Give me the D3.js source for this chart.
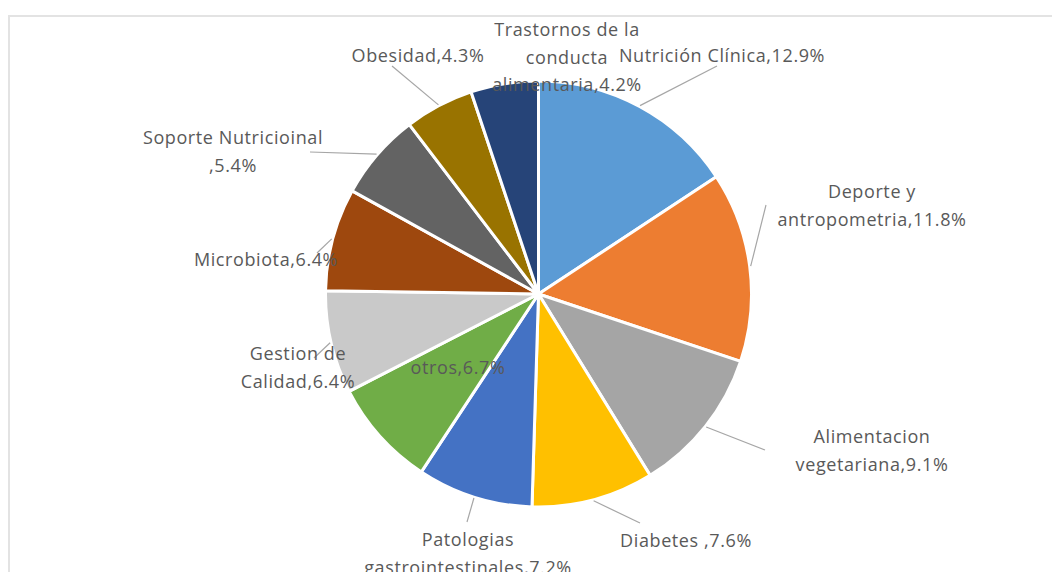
<!DOCTYPE html>
<html>
<head>
<meta charset="utf-8">
<script src="https://cdn.jsdelivr.net/npm/d3@7"></script>
<style>
  body { margin: 0; background: #fff; }
  svg { display: block; }
  .lbl { font-family: "Open Sans", Lato, sans-serif; font-size: 18px; letter-spacing: 0.6px; fill: #595959; }
</style>
</head>
<body>
<div id="chart"></div>
<script>
// slice data (clockwise from 12 o'clock)
var categories = ["Nutrición Clínica", "Deporte y antropometria", "Alimentacion vegetariana", "Diabetes ",
  "Patologias gastrointestinales", "otros", "Gestion de Calidad", "Microbiota",
  "Soporte Nutricioinal ", "Obesidad", "Trastornos de la conducta alimentaria"];
var values = [12.9, 11.8, 9.1, 7.6, 7.2, 6.7, 6.4, 6.4, 5.4, 4.3, 4.2];
var labelLines = [
  ["Nutrición Clínica,12.9%"],
  ["Deporte y", "antropometria,11.8%"],
  ["Alimentacion", "vegetariana,9.1%"],
  ["Diabetes ,7.6%"],
  ["Patologias", "gastrointestinales,7.2%"],
  ["otros,6.7%"],
  ["Gestion de", "Calidad,6.4%"],
  ["Microbiota,6.4%"],
  ["Soporte Nutricioinal", ",5.4%"],
  ["Obesidad,4.3%"],
  ["Trastornos de la", "conducta", "alimentaria,4.2%"]
];
var colors = ["#5b9bd5", "#ed7d31", "#a5a5a5", "#ffc000", "#4472c4", "#70ad47",
  "#c9c9c9", "#9e480e", "#636363", "#997300", "#264478"];

// label placement: text centre x, first line centre y, leader end (null = no leader)
var labelLayout = [
  {x: 722, y: 56, end: [717, 66]},
  {x: 872, y: 192, end: [766, 205]},
  {x: 872, y: 437, end: [765, 450]},
  {x: 686, y: 541, end: [640, 523]},
  {x: 468, y: 540, end: [467, 522]},
  {x: 458, y: 368, end: null},
  {x: 298, y: 354, end: [314, 358]},
  {x: 266, y: 260, end: [317, 253]},
  {x: 233, y: 138, end: [310, 152]},
  {x: 418, y: 56, end: [392, 66]},
  {x: 567, y: 30, end: null}
];

var width = 1052, height = 572;
var cx = 538.5, cy = 294, radius = 213, lineH = 27.5;

var svg = d3.select("#chart").append("svg")
  .attr("width", width)
  .attr("height", height);

// chart area frame
svg.append("rect")
  .attr("x", 9).attr("y", 16)
  .attr("width", 1100).attr("height", 600)
  .attr("fill", "none")
  .attr("stroke", "#e3e3e3")
  .attr("stroke-width", 2);

var pie = d3.pie().sort(null).value(function(d) { return d; });
var arcs = pie(values);
var arc = d3.arc().innerRadius(0).outerRadius(radius);

var g = svg.append("g").attr("transform", "translate(" + cx + "," + cy + ")");

g.selectAll("path.slice")
  .data(arcs)
  .enter().append("path")
  .attr("class", "slice")
  .attr("d", arc)
  .attr("fill", function(d, i) { return colors[i]; })
  .attr("stroke", "#fff")
  .attr("stroke-width", 3)
  .attr("stroke-linejoin", "round");

// leader lines from the slice edge to the label
arcs.forEach(function(d, i) {
  var lay = labelLayout[i];
  if (!lay.end) return;
  var mid = (d.startAngle + d.endAngle) / 2;
  var sx = cx + Math.sin(mid) * (radius + 1);
  var sy = cy - Math.cos(mid) * (radius + 1);
  svg.append("line")
    .attr("x1", sx).attr("y1", sy)
    .attr("x2", lay.end[0]).attr("y2", lay.end[1])
    .attr("stroke", "#a6a6a6")
    .attr("stroke-width", 1.2);
});

// labels
labelLines.forEach(function(lines, i) {
  var lay = labelLayout[i];
  var t = svg.append("text")
    .attr("class", "lbl")
    .attr("text-anchor", "middle");
  lines.forEach(function(s, k) {
    t.append("tspan")
      .attr("x", lay.x)
      .attr("y", lay.y + k * lineH)
      .attr("dy", "0.35em")
      .text(s);
  });
});
</script>
</body>
</html>
